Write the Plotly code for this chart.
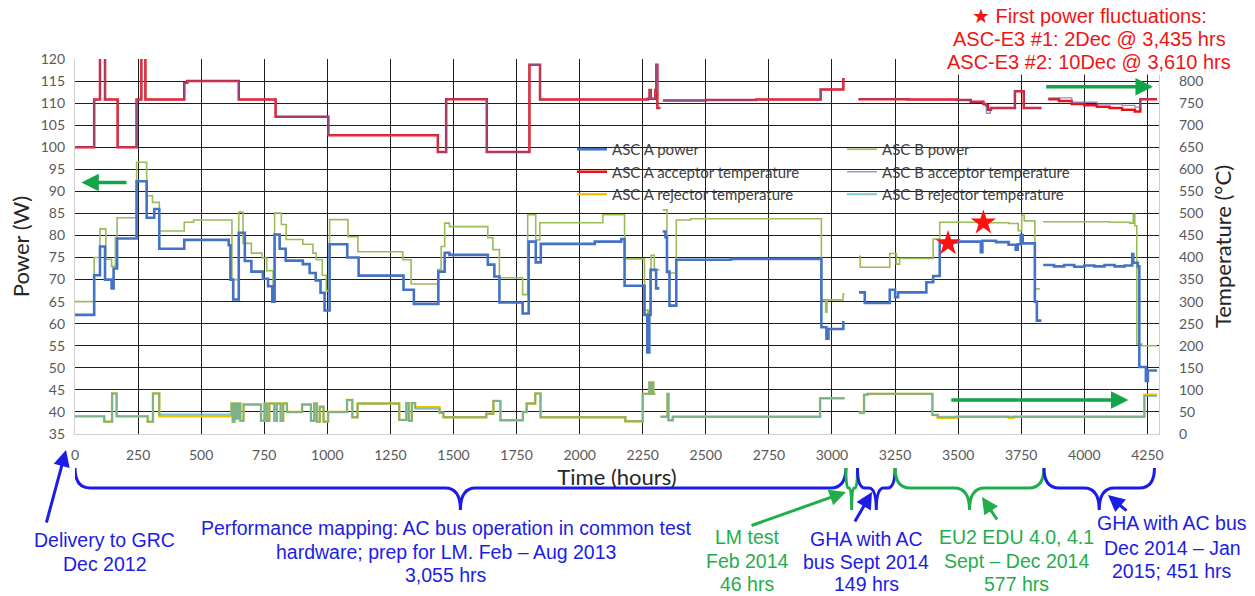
import plotly.graph_objects as go

# ---------------- data (hours, W or degC) ----------------
a_power_t = [0, 76, 99, 119, 145, 153, 167, 244, 284, 314, 334, 433, 609, 616, 627, 649, 673, 699, 745, 765, 782, 791, 811, 835, 903, 930, 954, 973, 989, 1009, 1079, 1124, 1302, 1343, 1440, 1465, 1484, 1636, 1662, 1682, 1774, 1798, 1826, 1846, 2060, 2165, 2178, 2257, 2268, 2276, 2281, 2303, 2316, 2316, 2329, 2340, 2346, 2356, 2383, 2600, 2958, 2978, 2986, 3045, 3050, 3050, 3107, 3130, 3229, 3250, 3262, 3374, 3401, 3427, 3500, 3590, 3596, 3650, 3700, 3728, 3736, 3748, 3756, 3804, 3812, 3830, 3830, 3837, 3880, 3920, 3960, 4000, 4040, 4080, 4120, 4160, 4190, 4194, 4212, 4218, 4244, 4252, 4288]
a_power_w = [62, 71, 77.5, 70, 68, 72.5, 79.3, 92.3, 84, 86, 77, 79, 77.8, 70, 65.5, 80.6, 74.2, 71.8, 70.2, 68.5, 65, 80.2, 77, 74.3, 73.5, 71.5, 69.8, 67, 63, 78, 75, 70.9, 67.7, 64.5, 71.8, 76.1, 75.6, 73.4, 70.7, 64.8, 62.3, 78.6, 73.9, 78.1, 78.6, 79.2, 68.6, 62, 53.5, 62, 72.2, 68, 68, None, 80.9, 79.6, 71.8, 64.1, 74.5, 74.7, 59.2, 56.6, 58.8, 60.3, 60.3, None, 67.1, 64.7, 67.7, 66, 67.1, 69.4, 70.8, 78.4, 78.6, 76.2, 78.8, 78.5, 77.9, 76.8, 78, 80.1, 78.2, 65, 60.7, 60.7, None, 73.3, 73.0, 73.3, 72.9, 73.2, 73.0, 73.3, 73.0, 73.2, 75.8, 73.8, 73.0, 50.2, 47, 49.4, 49.4]

b_power_t = [0, 76, 99, 122, 145, 160, 167, 244, 284, 307, 334, 433, 470, 622, 649, 666, 699, 741, 760, 785, 791, 818, 837, 903, 943, 956, 980, 996, 1009, 1082, 1121, 1299, 1332, 1438, 1451, 1465, 1484, 1636, 1656, 1682, 1774, 1794, 1826, 1842, 2092, 2178, 2257, 2270, 2276, 2283, 2296, 2316, 2316, 2329, 2346, 2383, 2440, 2958, 2975, 2980, 3044, 3050, 3050, 3107, 3112, 3229, 3255, 3268, 3401, 3427, 3600, 3700, 3738, 3752, 3762, 3804, 3824, 3824, 3837, 4100, 4180, 4194, 4200, 4208, 4228, 4288]
b_power_w = [65, 75, 81.5, 74.6, 73, 79.5, 84, 96.6, 89, 87.5, 81, 83, 83.5, 70, 85.3, 78.2, 76, 74.9, 72, 67, 85.1, 82.5, 79.1, 78, 76, 74.5, 71, 67.5, 83.6, 79.7, 76.3, 74.5, 69, 72.3, 77.5, 82.8, 82, 79.5, 76.8, 70.4, 66.6, 84.7, 79, 82.9, 84.7, 74.7, 63.1, 56.3, 63, 75.5, 72.2, 72.2, None, 85.8, 71.5, 83.5, 83.8, 65.4, 62.6, 65.4, 66.7, 66.7, None, 75.3, 72.8, 75.9, 73.5, 74.8, 79.2, 83, 82.9, 82.7, 81.1, 84.6, 83.3, 67.9, 67.9, None, 83.1, 83.0, 82.8, 84.8, 82.2, 55.4, 55, 55]

a_acc_t = [0, 76, 99, 119, 169, 244, 263, 279, 433, 445, 649, 795, 1004, 1438, 1471, 1632, 1801, 1843, 2270, 2277, 2282, 2300, 2304, 2308, 2320, 2320, 2330, 2500, 2700, 2955, 3045, 3050, 3050, 3105, 3300, 3494, 3550, 3600, 3610, 3618, 3630, 3725, 3760, 3830, 3830, 3857, 3900, 3950, 4000, 4050, 4100, 4150, 4200, 4222, 4288]
a_acc_c = [650, 758, 860, 758, 650, 758, 860, 758, 796, 800, 758, 719, 677, 639, 759, 639, 837, 758, 760, 780, 760, 780, 837, 739, 739, None, 756, 757, 758, 781, 804, 804, None, 759, 758, 757, 753, 748, 745, 735, 739, 777, 739, 739, None, 759, 755, 748, 745, 742, 739, 735, 731, 759, 759]

b_acc_t = [0, 76, 99, 119, 169, 244, 263, 279, 433, 445, 649, 795, 1004, 1438, 1471, 1632, 1801, 1843, 2270, 2277, 2282, 2300, 2304, 2308, 2320, 2320, 2330, 2500, 2700, 2955, 3045, 3050, 3050, 3105, 3300, 3494, 3550, 3600, 3612, 3628, 3725, 3760, 3830, 3830, 3857, 3950, 4050, 4150, 4200, 4222, 4288]
b_acc_c = [650, 758, 860, 758, 650, 758, 860, 758, 796, 800, 758, 719, 677, 639, 759, 639, 837, 758, 760, 780, 760, 780, 837, 739, 739, None, 756, 757, 758, 781, 804, 804, None, 759, 758, 757, 753, 748, 727, 739, 777, 739, 739, None, 762, 752, 748, 745, 741, 759, 759]

a_rej_t = [0, 116, 147, 165, 288, 309, 334, 620, 625, 632, 640, 648, 655, 668, 737, 751, 760, 770, 790, 800, 815, 825, 840, 900, 935, 948, 958, 970, 985, 1003, 1078, 1099, 1120, 1285, 1313, 1323, 1335, 1348, 1445, 1460, 1630, 1658, 1686, 1775, 1790, 1824, 1845, 2181, 2250, 2276, 2281, 2287, 2292, 2300, 2300, 2320, 2348, 2352, 2369, 2953, 3050, 3050, 3106, 3127, 3141, 3398, 3419, 3495, 3700, 3720, 4238, 4288]
a_rej_c = [40, 28, 92, 40, 28, 92, 40, 69, 28, 69, 35, 69, 30, 67, 30, 69, 30, 69, 30, 69, 30, 69, 50, 67, 30, 69, 28, 62, 28, 50, 77, 38, 69, 32, 70, 30, 70, 61, 48, 38, 46, 75, 31, 50, 69, 92, 38, 29, 91, 117, 91, 117, 91, 91, None, 39, 91, 31, 39, 81, 81, None, 49, 89, 91, 43, 37, 39, 37, 39, 89, 89]

b_rej_t = [0, 116, 147, 165, 288, 309, 334, 620, 625, 632, 640, 648, 655, 668, 737, 751, 760, 770, 790, 800, 815, 825, 840, 900, 935, 948, 958, 970, 985, 1003, 1078, 1099, 1120, 1285, 1313, 1323, 1335, 1348, 1445, 1460, 1630, 1658, 1686, 1775, 1790, 1824, 1845, 2181, 2250, 2276, 2281, 2287, 2292, 2300, 2300, 2320, 2348, 2352, 2369, 2953, 3050, 3050, 3106, 3127, 3141, 3398, 3419, 3495, 4238, 4288]
b_rej_c = [40, 28, 92, 40, 28, 92, 44, 69, 28, 69, 35, 69, 30, 67, 30, 69, 30, 69, 30, 69, 30, 69, 50, 67, 30, 69, 28, 62, 28, 50, 77, 38, 69, 32, 70, 30, 70, 57, 48, 38, 46, 75, 31, 50, 69, 92, 38, 29, 91, 117, 91, 117, 91, 91, None, 39, 91, 31, 39, 81, 81, None, 47, 89, 91, 43, 39, 39, 86, 86]

star_t = [3460, 3600]
star_w = [78.2, 82.9]

x_ticks = list(range(0, 4251, 250))
y_ticks = list(range(35, 121, 5))
y2_ticks = list(range(0, 801, 50))

BLUE, GREEN, RED = "#1c1ce6", "#1fae4b", "#f01414"

# phases below axis: (start, end, colour)
phases = [(0, 3055, BLUE), (3055, 3101, GREEN), (3101, 3250, BLUE),
          (3250, 3840, GREEN), (3840, 4278, BLUE)]

# ---------------- layout constants ----------------
W, H = 1255, 596
ML, MR, MT, MB = 75, 96, 59, 162
PW, PH = W - ML - MR, H - MT - MB


def px(x):
    return (x - ML) / PW


def py(y):
    return (H - MB - y) / PH


fig = go.Figure()

fig.add_trace(go.Scatter(x=b_power_t, y=b_power_w, name="ASC B power", mode="lines",
                         line=dict(color="#9BBB59", width=1.6, shape="hv"), legend="legend2"))
fig.add_trace(go.Scatter(x=a_power_t, y=a_power_w, name="ASC A power", mode="lines",
                         line=dict(color="#4472C4", width=2.6, shape="hv"), legend="legend"))
fig.add_trace(go.Scatter(x=a_acc_t, y=a_acc_c, name="ASC A acceptor temperature", mode="lines", yaxis="y2",
                         line=dict(color="#E3141C", width=2.5, shape="hv"), legend="legend"))
fig.add_trace(go.Scatter(x=b_acc_t, y=b_acc_c, name="ASC B acceptor temperature", mode="lines", yaxis="y2",
                         line=dict(color="#7E5FA6", width=1.3, shape="hv"), opacity=0.75, legend="legend2"))
fig.add_trace(go.Scatter(x=a_rej_t, y=a_rej_c, name="ASC A rejector temperature", mode="lines", yaxis="y2",
                         line=dict(color="#F2C200", width=2.4, shape="hv"), legend="legend"))
fig.add_trace(go.Scatter(x=b_rej_t, y=b_rej_c, name="ASC B rejector temperature", mode="lines", yaxis="y2",
                         line=dict(color="#4BACC6", width=2.0, shape="hv"), opacity=0.7, legend="legend2"))
fig.add_trace(go.Scatter(x=star_t, y=star_w, mode="markers", showlegend=False,
                         marker=dict(symbol="star", size=19, color="#ff1010", line=dict(width=0))))

tickfont = dict(family="Lato", size=14, color="#595959")
titlefont = dict(family="Lato", size=22, color="#262626")
legfont = dict(family="Lato", size=15, color="#404040")

fig.update_layout(
    width=W, height=H, margin=dict(l=ML, r=MR, t=MT, b=MB, autoexpand=False),
    paper_bgcolor="white", plot_bgcolor="white", showlegend=True,
    xaxis=dict(range=[0, 4296], tickvals=x_ticks, showgrid=True, gridcolor="#1e1e1e", gridwidth=1.3,
               zeroline=False, showline=True, linecolor="#D0D0D0", linewidth=1.2, ticks="",
               tickfont=tickfont, ticklabelstandoff=8,
               title=dict(text="Time (hours)", font=titlefont, standoff=0)),
    yaxis=dict(range=[35, 120], tickvals=y_ticks, showgrid=True, gridcolor="#1e1e1e", gridwidth=1.3,
               zeroline=False, showline=True, mirror=True, linecolor="#D0D0D0", linewidth=1.2, ticks="",
               tickfont=tickfont, ticklabelstandoff=6,
               title=dict(text="Power (W)", font=titlefont, standoff=5)),
    yaxis2=dict(range=[0, 850], tickvals=y2_ticks, overlaying="y", side="right", showgrid=False,
                zeroline=False, showline=False, ticks="", tickfont=tickfont, ticklabelstandoff=19,
                title=dict(text="Temperature (°C)", font=titlefont, standoff=13)),
    legend=dict(x=px(572), y=py(133), xanchor="left", yanchor="top", bgcolor="rgba(0,0,0,0)",
                font=legfont, tracegroupgap=0),
    legend2=dict(x=px(842), y=py(133), xanchor="left", yanchor="top", bgcolor="rgba(0,0,0,0)",
                 font=legfont, tracegroupgap=0),
)

# white panel behind the legends (hides grid only)
fig.add_shape(type="rect", xref="paper", yref="paper", x0=px(552), x1=px(1093), y0=py(206), y1=py(138),
              fillcolor="white", line=dict(width=0), layer="between")
# white panel behind the red note (hides grid only)
fig.add_shape(type="rect", xref="paper", yref="paper", x0=px(937), x1=px(1158), y0=py(75), y1=py(50),
              fillcolor="white", line=dict(width=0), layer="between")

# braces below the axis
y_top, y_h, y_tip = py(468), py(488), py(510)
for x0, x1, col in phases:
    xm = (x0 + x1) / 2
    d = min(60, (x1 - x0) / 5)
    path = (f"M {x0},{y_top} Q {x0},{y_h} {x0 + d},{y_h} L {xm - d},{y_h} "
            f"Q {xm},{y_h} {xm},{y_tip} Q {xm},{y_h} {xm + d},{y_h} L {x1 - d},{y_h} "
            f"Q {x1},{y_h} {x1},{y_top}")
    fig.add_shape(type="path", xref="x", yref="paper", path=path, line=dict(color=col, width=3))

afont = "Liberation Sans, Arial, sans-serif"


def label(lines, x, ys, color, size=19.5, bg=None):
    for text, y in zip(lines, ys):
        kw = dict(bgcolor=bg) if bg else {}
        fig.add_annotation(text=text, xref="paper", yref="paper", x=px(x), y=py(y), showarrow=False,
                           font=dict(family=afont, size=size, color=color), align="center",
                           xanchor="center", yanchor="middle", **kw)


label(["Delivery to GRC", "Dec 2012"], 104, [540, 564], BLUE)
label(["Performance mapping: AC bus operation in common test", "hardware; prep for LM. Feb – Aug 2013",
       "3,055 hrs"], 446, [528, 552, 575], BLUE)
label(["LM test", "Feb 2014", "46 hrs"], 747, [537, 561, 584], GREEN)
label(["GHA with AC", "bus Sept 2014", "149 hrs"], 866, [539, 562, 584], BLUE)
label(["EU2 EDU 4.0, 4.1", "Sept – Dec 2014", "577 hrs"], 1016, [537, 561, 584], GREEN)
label(["GHA with AC bus", "Dec 2014 – Jan", "2015; 451 hrs"], 1172, [523, 548, 571], BLUE)

# pointer arrows below the axis
for hx, hy, tx, ty, col in [(66, 450, 46, 524, BLUE), (846, 492, 750, 526, GREEN), (872, 492, 854, 523, BLUE),
                            (982, 497, 998, 521, GREEN), (1108, 495, 1128, 512, BLUE)]:
    fig.add_annotation(xref="paper", yref="paper", x=px(hx), y=py(hy), ax=tx - hx, ay=ty - hy, text="",
                       showarrow=True, arrowhead=2, arrowsize=1.1, arrowwidth=3, arrowcolor=col)

# green arrows in the plot
for x0, x1, yv in [(210, 25, 92.0), (3843, 4272, 113.7), (3467, 4175, 42.7)]:
    fig.add_annotation(xref="x", yref="y", axref="x", ayref="y", x=x1, y=yv, ax=x0, ay=yv, text="",
                       showarrow=True, arrowhead=2, arrowsize=1.0, arrowwidth=3.5, arrowcolor="#12a448")

# red note top right
label(["★ First power fluctuations:", "ASC-E3 #1: 2Dec @ 3,435 hrs", "ASC-E3 #2: 10Dec @ 3,610 hrs"],
      1089, [16, 39, 62], RED, size=20, bg="white")

fig.write_html("out.html", config={"displayModeBar": False},
               post_script="document.body.style.margin='0px';")
